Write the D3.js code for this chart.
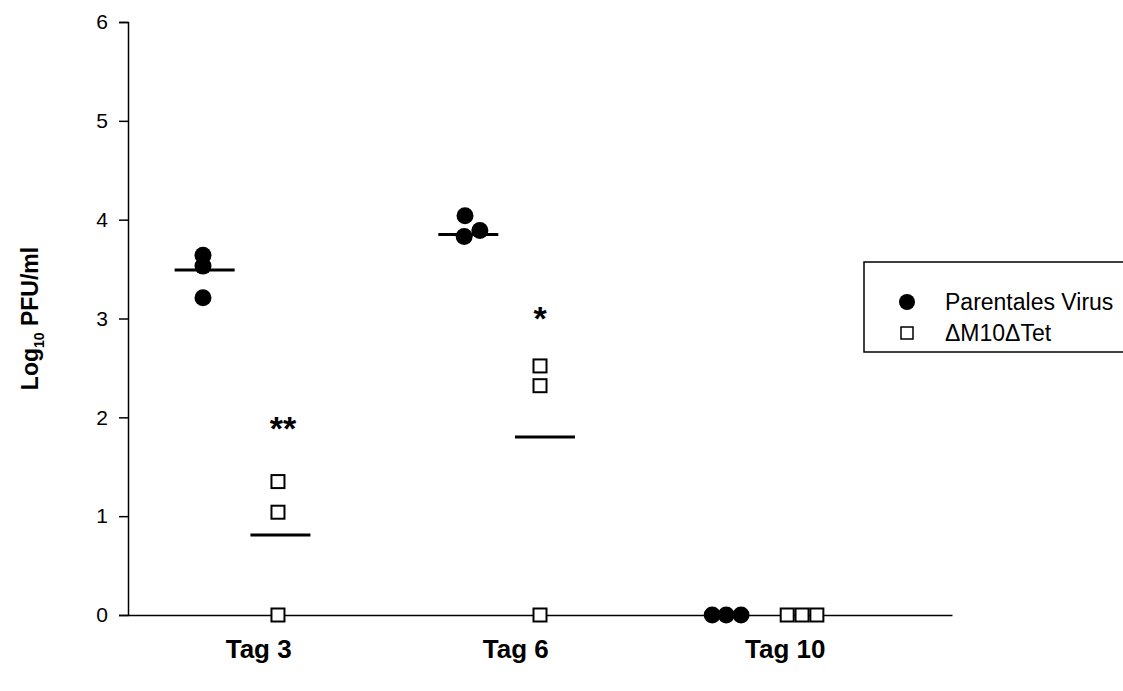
<!DOCTYPE html>
<html>
<head>
<meta charset="utf-8">
<script src="https://cdn.jsdelivr.net/npm/d3@7"></script>
<style>
  html, body { margin: 0; padding: 0; background: #fff; }
  svg { display: block; font-family: Arial, "Liberation Sans", sans-serif; }
</style>
</head>
<body>
<div id="chart"></div>
<script>
// Virus titre per day: parental virus vs. ΔM10ΔTet mutant (log10 PFU/ml)

const dayLabels = ["Tag 3", "Tag 6", "Tag 10"];
const dayLabelX = [1.58, 4.70, 7.97];          // x position of the day labels (data units)

const yTicks = [0, 1, 2, 3, 4, 5, 6];

// individual measurements: x = position along the day axis (with jitter), y = log10 PFU/ml
const parentalPoints = [
  { x: 0.91, y: 3.64 }, { x: 0.91, y: 3.53 }, { x: 0.91, y: 3.21 },
  { x: 4.09, y: 4.04 }, { x: 4.08, y: 3.83 }, { x: 4.27, y: 3.89 },
  { x: 7.09, y: 0 },    { x: 7.26, y: 0 },    { x: 7.44, y: 0 }
];
const mutantPoints = [
  { x: 1.82, y: 1.35 }, { x: 1.82, y: 1.04 }, { x: 1.82, y: 0 },
  { x: 5.00, y: 2.52 }, { x: 5.00, y: 2.32 }, { x: 5.00, y: 0 },
  { x: 8.00, y: 0 },    { x: 8.18, y: 0 },    { x: 8.36, y: 0 }
];

// group means (horizontal bars)
const means = [
  { x: 0.93, y: 3.49 }, { x: 1.85, y: 0.81 },
  { x: 4.13, y: 3.85 }, { x: 5.06, y: 1.80 }
];

// significance marks
const marks = [
  { x: 1.88, y: 1.77, text: "**" },
  { x: 5.00, y: 2.88, text: "*" }
];

const legendItems = ["Parentales Virus", "\u0394M10\u0394Tet"];

const width = 1123, height = 691;
const margin = { top: 22, right: 171, bottom: 76, left: 128 };

const svg = d3.select("#chart").append("svg")
  .attr("width", width)
  .attr("height", height);

const x = d3.scaleLinear()
  .domain([0, 10])
  .range([margin.left, width - margin.right]);

const y = d3.scaleLinear()
  .domain([0, 6])
  .range([height - margin.bottom, margin.top]);

// y axis
const yAxis = svg.append("g")
  .attr("transform", `translate(${margin.left},0)`)
  .call(d3.axisLeft(y).tickValues(yTicks).tickSize(9).tickPadding(11).tickFormat(d3.format("d")));
yAxis.select(".domain").attr("stroke", "#000").attr("stroke-width", 1.5);
yAxis.selectAll(".tick line").attr("stroke", "#000").attr("stroke-width", 1.5);
yAxis.selectAll(".tick text")
  .attr("fill", "#000")
  .style("font-size", "21px")
  .style("font-family", "Arial, 'Liberation Sans', sans-serif");

// x axis (line only, labels below)
const xAxis = svg.append("g")
  .attr("transform", `translate(0,${y(0)})`)
  .call(d3.axisBottom(x).tickValues(dayLabelX).tickSize(0).tickPadding(25)
    .tickFormat((d, i) => dayLabels[i]));
xAxis.select(".domain").attr("stroke", "#000").attr("stroke-width", 1.5);
xAxis.selectAll(".tick text")
  .attr("fill", "#000")
  .style("font-size", "26px")
  .style("font-weight", "bold")
  .style("font-family", "Arial, 'Liberation Sans', sans-serif");

// y title
const yTitle = svg.append("text")
  .attr("transform", `translate(38,${(y(0) + y(6)) / 2}) rotate(-90)`)
  .attr("text-anchor", "middle")
  .style("font-size", "23px")
  .style("font-weight", "bold");
yTitle.append("tspan").text("Log");
yTitle.append("tspan").attr("dy", 6).style("font-size", "14px").text("10");
yTitle.append("tspan").attr("dy", -6).text(" PFU/ml");

// mean bars
svg.selectAll("line.mean")
  .data(means)
  .enter()
  .append("line")
  .attr("class", "mean")
  .attr("x1", d => x(d.x) - 30)
  .attr("x2", d => x(d.x) + 30)
  .attr("y1", d => y(d.y))
  .attr("y2", d => y(d.y))
  .attr("stroke", "#000")
  .attr("stroke-width", 3);

// parental virus (filled circles)
svg.selectAll("circle.parental")
  .data(parentalPoints)
  .enter()
  .append("circle")
  .attr("class", "parental")
  .attr("cx", d => x(d.x))
  .attr("cy", d => y(d.y))
  .attr("r", 8.5)
  .attr("fill", "#000");

// mutant (open squares)
const sq = 13;
svg.selectAll("rect.mutant")
  .data(mutantPoints)
  .enter()
  .append("rect")
  .attr("class", "mutant")
  .attr("x", d => x(d.x) - sq / 2)
  .attr("y", d => y(d.y) - sq / 2)
  .attr("width", sq)
  .attr("height", sq)
  .attr("fill", "#fff")
  .attr("stroke", "#000")
  .attr("stroke-width", 2);

// significance asterisks
svg.selectAll("text.sig")
  .data(marks)
  .enter()
  .append("text")
  .attr("class", "sig")
  .attr("x", d => x(d.x))
  .attr("y", d => y(d.y))
  .attr("text-anchor", "middle")
  .style("font-size", "34px")
  .style("font-weight", "bold")
  .text(d => d.text);

// legend
const legend = svg.append("g").attr("transform", "translate(864,262)");
legend.append("rect")
  .attr("width", 270)
  .attr("height", 90)
  .attr("fill", "#fff")
  .attr("stroke", "#000")
  .attr("stroke-width", 1.5);

const rows = legend.selectAll("g.item")
  .data(legendItems)
  .enter()
  .append("g")
  .attr("class", "item")
  .attr("transform", (d, i) => `translate(0,${40 + i * 31})`);

rows.filter((d, i) => i === 0).append("circle")
  .attr("cx", 43).attr("cy", 0).attr("r", 8).attr("fill", "#000");
rows.filter((d, i) => i === 1).append("rect")
  .attr("x", 37).attr("y", -6).attr("width", 12).attr("height", 12)
  .attr("fill", "#fff").attr("stroke", "#000").attr("stroke-width", 1.5);

rows.append("text")
  .attr("x", 81)
  .attr("y", 8)
  .style("font-size", "23px")
  .text(d => d);
</script>
</body>
</html>
